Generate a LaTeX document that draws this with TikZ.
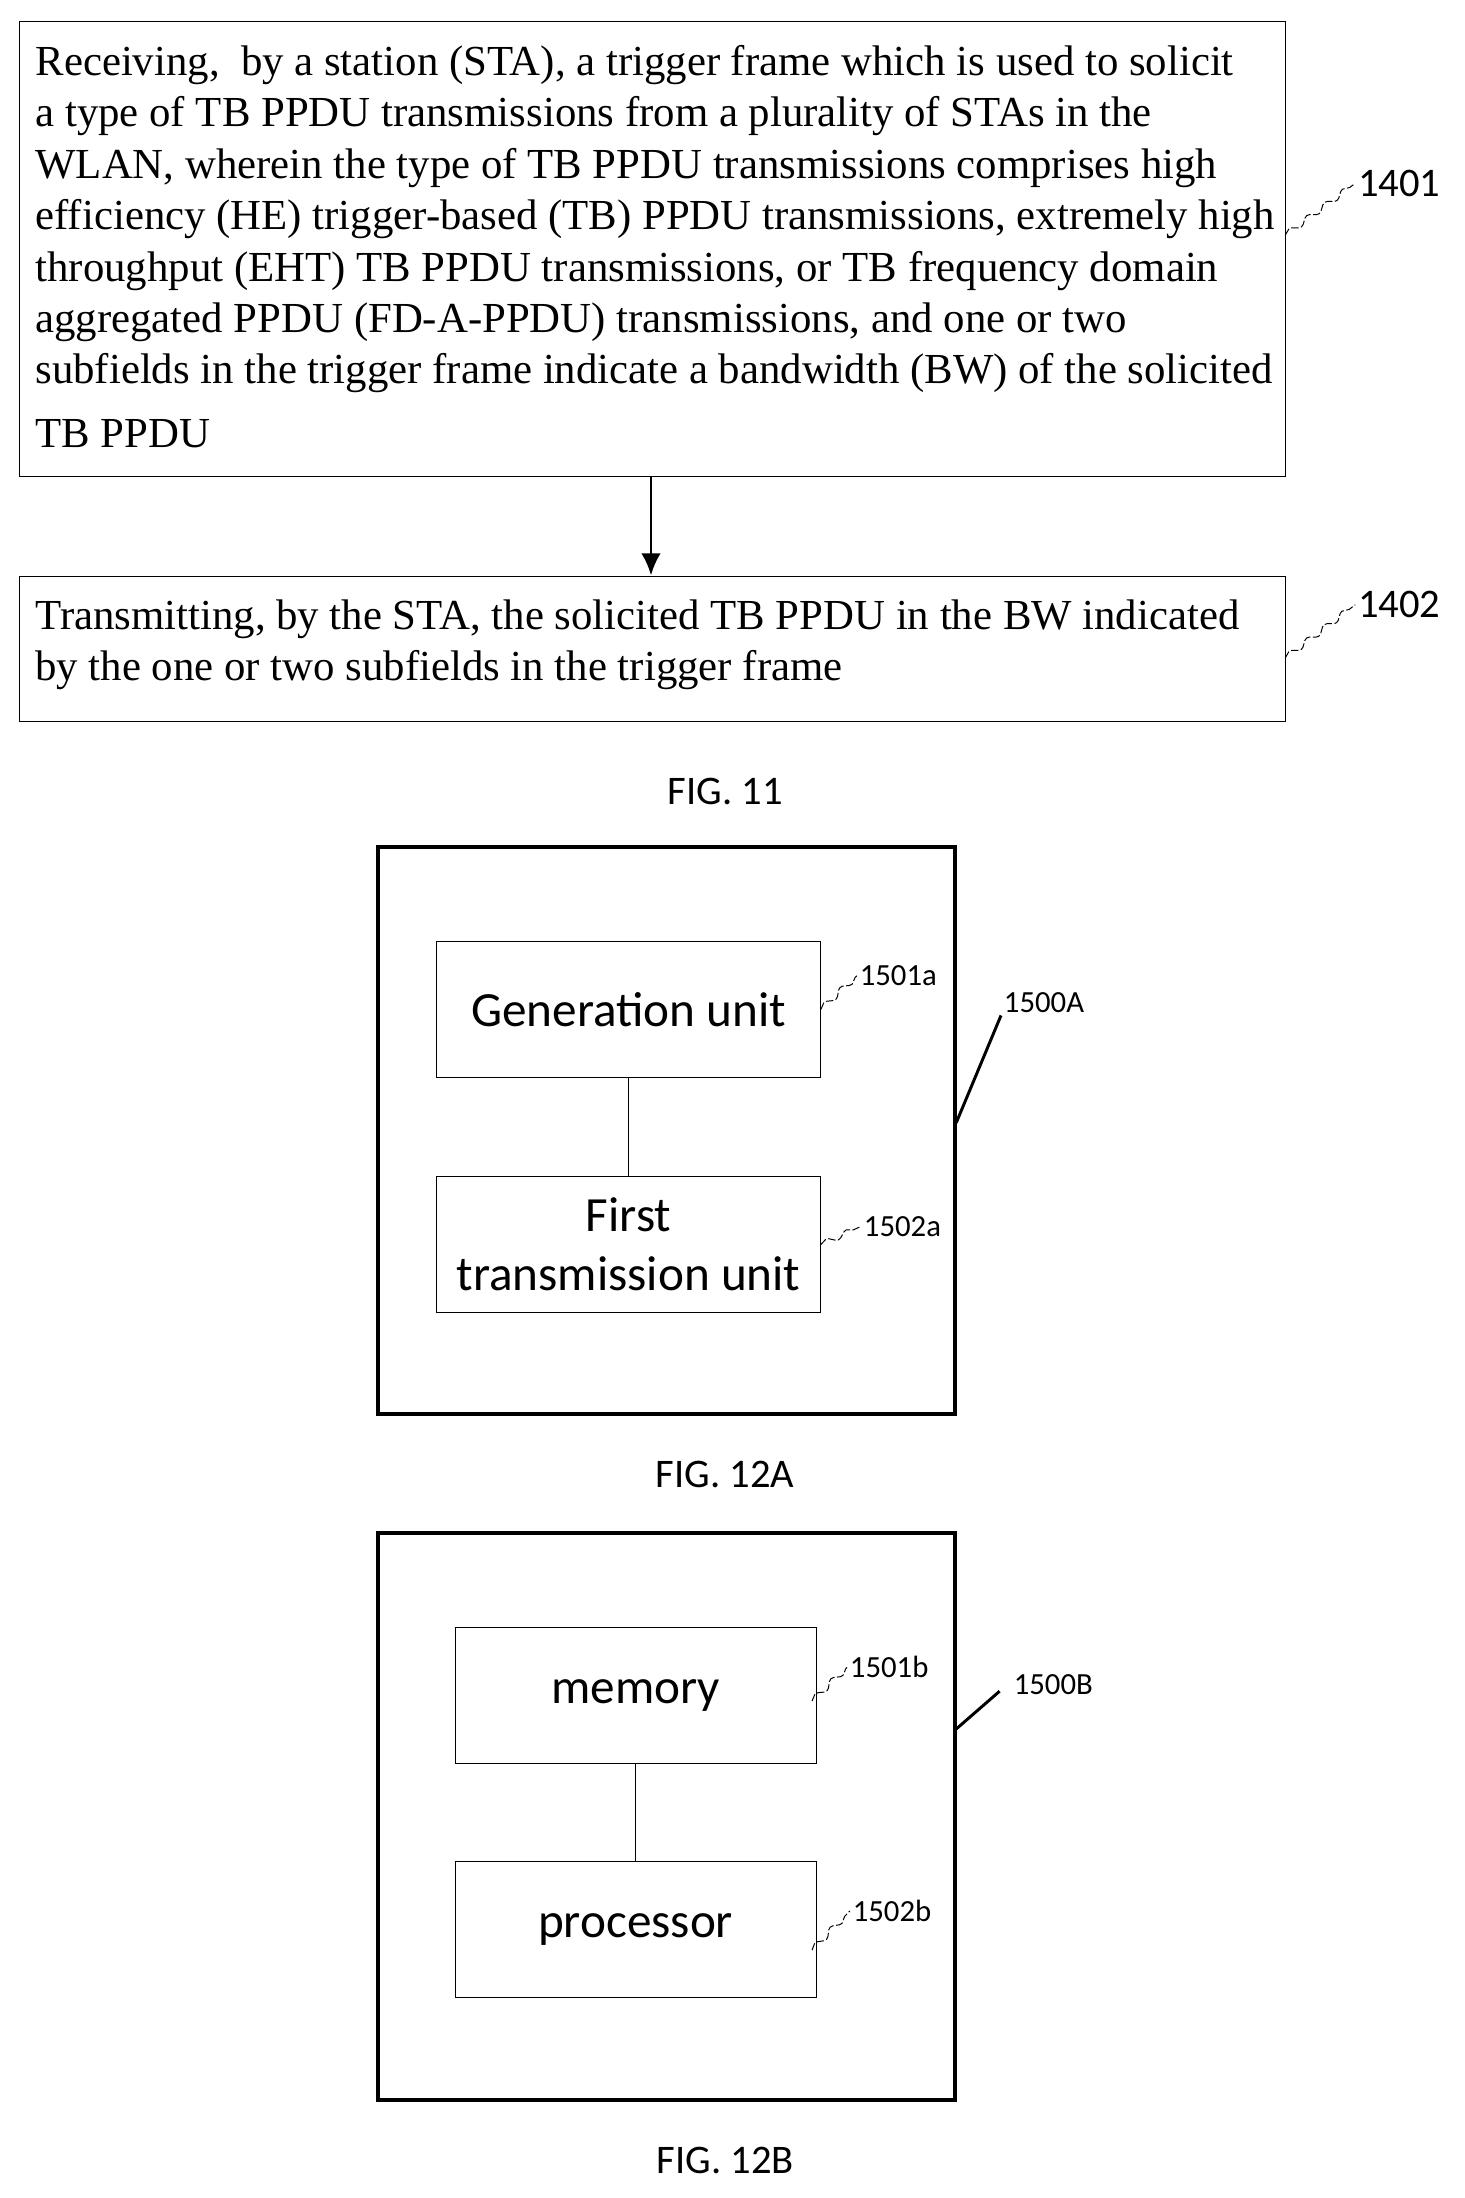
\documentclass[tikz,border=0pt]{standalone}
\usepackage{fontspec}
\setmainfont{Liberation Serif}
\newfontfamily\figfont{Carlito}
\usetikzlibrary{positioning,arrows.meta,decorations.pathmorphing}
\tikzset{
  x=0.02cm, y=-0.02cm,
  stepbox/.style={draw, thin},
  frame/.style={draw, line width=1.6pt},
  unit/.style={draw, thin, minimum width=5.48cm, minimum height=1.94cm, font=\figfont\fontsize{20}{24}\selectfont, align=center},
  squig/.style={thin, dashed, dash pattern=on 3pt off 1pt, decorate, decoration={snake, amplitude=1.2pt, segment length=9pt}},
  tag/.style={font=\figfont\fontsize{12.5}{14}\selectfont, anchor=west, inner sep=1pt},
  figcap/.style={font=\figfont\fontsize{16.5}{19}\selectfont}
}
\begin{document}
\begin{tikzpicture}
  \useasboundingbox (0,0) rectangle (1046,1570);

  % FIG. 11
  \draw[stepbox] (14,15) rectangle (918,340);
  \node[anchor=north west, align=left, font=\fontsize{17.4}{20.9}\selectfont, inner sep=0pt] (txta) at (25,32)
    {Receiving,\ \ by a station (STA),\ a trigger frame which is used to solicit\\
     a type of TB PPDU transmissions from a plurality of STAs in the\\
     WLAN,\ wherein the type of TB PPDU transmissions comprises high\\
     efficiency (HE) trigger-based (TB) PPDU transmissions, extremely high\\
     throughput (EHT) TB PPDU transmissions, or TB frequency domain\\
     aggregated PPDU (FD-A-PPDU) transmissions, and one or two\\
     subfields in the trigger frame indicate a bandwidth (BW) of the solicited\\[5pt]
     TB PPDU};
  \draw[stepbox] (14,412) rectangle (918,515);
  \node[anchor=north west, align=left, font=\fontsize{17.4}{20.9}\selectfont, inner sep=0pt] (txtb) at (25,428)
    {Transmitting, by the STA, the solicited TB PPDU in the BW indicated\\
     by the one or two subfields in the trigger frame};
  \coordinate (s1) at (465,340);
  \coordinate (s2) at (465,411);
  \draw[-{Latex[length=9pt,width=8pt]}, line width=1.2pt] (s1) -- (s2);
  \node[tag, font=\figfont\fontsize{16.5}{19}\selectfont] (l1401) at (968,131) {1401};
  \node[tag, font=\figfont\fontsize{16.5}{19}\selectfont] (l1402) at (968,432) {1402};
  \draw[squig] (918,168) -- (l1401.west);
  \draw[squig] (918,470) -- (l1402.west);
  \node[figcap] (f11) at (518,565) {FIG. 11};

  % FIG. 12A
  \draw[frame] (270,605) rectangle (682,1010);
  \node[unit] (gen) at (449,721) {Generation unit};
  \node[unit] (tx) at (449,889) {First\\transmission unit};
  \draw (gen) -- (tx);
  \node[tag] (l1501a) at (612,697) {1501a};
  \node[tag] (l1502a) at (615,876) {1502a};
  \node[tag] (l1500a) at (715,716) {1500A};
  \draw[squig] (gen.east) -- (l1501a.west);
  \draw[squig] (tx.east) -- (l1502a.west);
  \draw[line width=1.2pt] (683,802) -- (l1500a.south west);
  \node[figcap] (f12a) at (518,1053) {FIG. 12A};

  % FIG. 12B
  \draw[frame] (270,1095) rectangle (682,1500);
  \node[unit, minimum width=5.16cm] (mem) at (454,1211) {memory};
  \node[unit, minimum width=5.16cm] (proc) at (454,1378) {processor};
  \draw (mem) -- (proc);
  \node[tag] (l1501b) at (605,1191) {1501b};
  \node[tag] (l1502b) at (607,1365) {1502b};
  \node[tag] (l1500b) at (722,1203) {1500B};
  \draw[squig] (580,1215) -- (l1501b.west);
  \draw[squig] (580,1393) -- (l1502b.west);
  \draw[line width=1.2pt] (683,1235) -- (714,1208);
  \node[figcap] (f12b) at (518,1543) {FIG. 12B};
\end{tikzpicture}
\end{document}
